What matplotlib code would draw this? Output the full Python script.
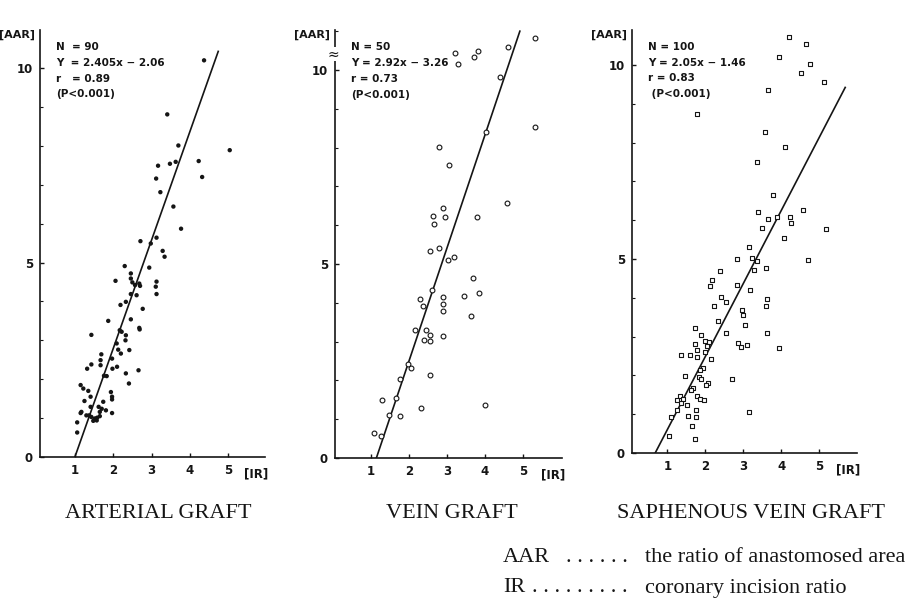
import matplotlib
matplotlib.use("Agg")
import matplotlib.pyplot as plt
from matplotlib import font_manager
from matplotlib.ticker import MultipleLocator

# values
art_x = [4.37, 3.41, 3.70, 5.04, 4.23, 3.17, 3.48, 3.63, 3.12, 4.32, 3.23, 3.57, 3.77,
         2.71, 2.98, 3.13, 3.29, 3.34, 2.94, 2.30, 2.06, 2.46, 2.46, 2.50, 2.57, 2.68,
         2.70, 3.13, 3.11, 3.13, 2.46, 2.61, 2.19, 2.33, 2.77, 2.46, 1.87, 2.17, 2.22,
         2.68, 2.69, 1.43, 2.33, 2.32, 2.09, 2.13, 2.20, 2.42, 1.69, 1.67, 1.67, 1.97,
         1.98, 2.10, 1.43, 1.32, 2.66, 2.33, 2.41, 1.76, 1.83, 1.15, 1.22, 1.35, 1.41,
         1.94, 1.97, 1.97, 1.25, 1.17, 1.15, 1.41, 1.74, 1.62, 1.70, 1.81, 1.65, 1.37,
         1.43, 1.52, 1.58, 1.65, 1.97, 1.06, 1.06, 1.30, 1.48, 1.57]
art_y = [10.2, 8.81, 8.01, 7.89, 7.61, 7.49, 7.54, 7.59, 7.16, 7.20, 6.81, 6.44, 5.87,
         5.55, 5.49, 5.64, 5.30, 5.15, 4.87, 4.91, 4.53, 4.72, 4.59, 4.49, 4.42, 4.46,
         4.40, 4.51, 4.38, 4.19, 4.19, 4.16, 3.91, 3.99, 3.81, 3.54, 3.50, 3.26, 3.22,
         3.32, 3.28, 3.14, 3.13, 3.00, 2.92, 2.76, 2.66, 2.75, 2.64, 2.49, 2.36, 2.53,
         2.27, 2.32, 2.38, 2.27, 2.23, 2.15, 1.89, 2.09, 2.08, 1.85, 1.76, 1.70, 1.55,
         1.67, 1.55, 1.48, 1.44, 1.16, 1.13, 1.29, 1.42, 1.29, 1.24, 1.20, 1.16, 1.07,
         1.03, 0.99, 1.01, 1.05, 1.13, 0.89, 0.63, 1.07, 0.93, 0.94]

vein_x = [5.32, 4.61, 3.21, 3.81, 3.71, 3.30, 4.39, 5.32, 4.04, 2.78, 3.06, 4.59, 2.89,
          2.64, 2.95, 2.65, 3.80, 2.55, 2.80, 3.18, 3.03, 3.68, 2.61, 3.45, 3.84, 2.28,
          2.89, 2.90, 2.37, 2.90, 3.62, 2.17, 2.46, 2.55, 2.55, 2.39, 2.89, 1.96, 2.05,
          1.75, 2.55, 1.65, 1.30, 2.32, 4.01, 1.47, 1.76, 1.09, 1.26]
vein_y = [10.82, 10.58, 10.44, 10.48, 10.33, 10.15, 9.81, 8.52, 8.39, 8.01, 7.56, 6.58,
          6.45, 6.24, 6.20, 6.03, 6.20, 5.33, 5.41, 5.18, 5.11, 4.64, 4.33, 4.18, 4.24,
          4.09, 4.15, 3.97, 3.92, 3.79, 3.67, 3.30, 3.30, 3.16, 3.01, 3.05, 3.15, 2.43,
          2.33, 2.04, 2.13, 1.55, 1.50, 1.30, 1.37, 1.10, 1.08, 0.64, 0.56]

saph_x = [4.21, 4.64, 3.94, 4.75, 4.51, 5.11, 3.64, 1.79, 3.57, 4.10, 3.37, 3.77, 3.39,
          3.66, 3.88, 4.23, 4.25, 4.58, 3.48, 5.18, 4.07, 3.14, 2.83, 3.24, 3.35, 3.28,
          3.59, 4.69, 2.39, 2.17, 2.12, 2.82, 3.18, 2.40, 2.54, 3.61, 3.59, 2.23, 2.96,
          3.00, 2.32, 3.04, 1.74, 2.54, 3.61, 1.89, 1.99, 2.10, 1.74, 2.05, 2.86, 3.09,
          2.93, 3.94, 1.79, 1.99, 1.60, 1.35, 1.77, 2.14, 1.93, 1.86, 1.46, 1.82, 1.89,
          2.69, 2.08, 2.02, 1.68, 1.62, 1.32, 1.42, 1.77, 1.86, 1.97, 1.35, 1.26, 3.14,
          1.75, 1.54, 1.75, 1.09, 1.64, 1.04, 1.74, 1.51, 1.26]
saph_y = [10.73, 10.54, 10.21, 10.03, 9.79, 9.55, 9.36, 8.74, 8.26, 7.88, 7.50, 6.65,
          6.22, 6.03, 6.07, 6.08, 5.92, 6.27, 5.79, 5.77, 5.54, 5.30, 5.00, 5.02, 4.94,
          4.72, 4.76, 4.98, 4.70, 4.45, 4.31, 4.33, 4.21, 4.02, 3.88, 3.98, 3.78, 3.78,
          3.69, 3.56, 3.39, 3.30, 3.22, 3.09, 3.09, 3.05, 2.88, 2.86, 2.82, 2.76, 2.83,
          2.78, 2.72, 2.70, 2.66, 2.61, 2.53, 2.52, 2.47, 2.43, 2.19, 2.15, 1.99, 1.97,
          1.91, 1.91, 1.80, 1.76, 1.67, 1.63, 1.48, 1.39, 1.46, 1.39, 1.37, 1.29, 1.12,
          1.06, 1.12, 0.96, 0.94, 0.94, 0.69, 0.45, 0.36, 1.24, 1.36]

# regression lines as drawn in the figure
art_fit_x = [1.0, 4.74]
art_fit_y = [0.0, 10.43]
vein_fit_x = [1.14, 4.92]
vein_fit_y = [0.0, 11.0]
saph_fit_x = [0.68, 5.68]
saph_fit_y = [0.0, 9.42]

titles = ["ARTERIAL GRAFT", "VEIN GRAFT", "SAPHENOUS VEIN GRAFT"]
stats = [["N  = 90", "Y  = 2.405x − 2.06", "r   = 0.89", "(P<0.001)"],
         ["N = 50", "Y = 2.92x − 3.26", "r = 0.73", "(P<0.001)"],
         ["N = 100", "Y = 2.05x − 1.46", "r = 0.83", " (P<0.001)"]]
x_ticks = [1, 2, 3, 4, 5]
y_ticks = [0, 5, 10]
key = [("AAR", ". . . . . .", "the ratio of anastomosed area"),
       ("IR", ". . . . . . . . .", "coronary incision ratio")]

names = {f.name for f in font_manager.fontManager.ttflist}
narrow = "Liberation Sans Narrow" if "Liberation Sans Narrow" in names else "DejaVu Sans"
ink = "#151515"

W, H = 919, 600
fig = plt.figure(figsize=(W / 100, H / 100), dpi=100)

# pixel boxes: left spine, width, xlim, y=0 px, ylim top
boxes = [(40, 225, 0.09, 5.96, 457, 10.98),
         (335, 227, 0.05, 6.03, 458, 11.03),
         (632, 225, 0.07, 5.99, 453, 10.90)]
series = [(art_x, art_y, art_fit_x, art_fit_y),
          (vein_x, vein_y, vein_fit_x, vein_fit_y),
          (saph_x, saph_y, saph_fit_x, saph_fit_y)]

for i, ((left, width, x0, x1, ybase, ytop), (xs, ys, fx, fy)) in enumerate(zip(boxes, series)):
    ax = fig.add_axes([left / W, (H - ybase) / H, width / W, (ybase - 30) / H])
    ax.set_xlim(x0, x1)
    ax.set_ylim(0, ytop)
    for s in ["top", "right"]:
        ax.spines[s].set_visible(False)
    for s in ["left", "bottom"]:
        ax.spines[s].set_linewidth(1.2)
        ax.spines[s].set_color(ink)

    if i == 0:
        ax.scatter(xs, ys, s=10, color=ink, edgecolors="none", zorder=3)
    elif i == 1:
        ax.scatter(xs, ys, s=12, facecolors="white", edgecolors=ink, linewidths=0.8, zorder=3)
    else:
        ax.scatter(xs, ys, s=9, marker="s", facecolors="white", edgecolors=ink,
                   linewidths=0.8, zorder=3)
    ax.plot(fx, fy, color=ink, lw=1.2, zorder=2)

    ax.set_xticks(x_ticks)
    ax.set_yticks(y_ticks)
    ax.yaxis.set_minor_locator(MultipleLocator(1))
    ax.tick_params(direction="in", length=3, width=1, colors=ink, labelsize=8.5, pad=5)
    ax.tick_params(which="minor", direction="in", length=2, width=0.8, colors=ink)
    for lab in ax.get_xticklabels() + ax.get_yticklabels():
        lab.set_family(narrow)
        lab.set_fontweight("bold")

    ax.text(-0.02, 1.0, "[AAR]", transform=ax.transAxes, ha="right", va="top",
            fontsize=8, fontweight="bold", family=narrow, color=ink)
    ax.text(0.96, -0.025, "[IR]", transform=ax.transAxes, ha="center", va="top",
            fontsize=8.5, fontweight="bold", family=narrow, color=ink)
    if i == 1:
        ax.text(0, 10.4, "≈", ha="center", va="center", fontsize=10, color=ink,
                bbox=dict(facecolor="white", edgecolor="none", pad=0), clip_on=False)

    for k, line in enumerate(stats[i]):
        ax.text(0.07, 0.96 - k * 0.037, line, transform=ax.transAxes, ha="left", va="center",
                fontsize=7.5, fontweight="bold", family=narrow, color=ink)

# panel captions
for cx, t in zip([158, 452, 751], titles):
    fig.text(cx / W, 1 - 514 / H, t, ha="center", va="center", fontsize=16,
             family="Liberation Serif", color=ink)

# abbreviations key
for k, (abbr, dots, desc) in enumerate(key):
    yy = 1 - (558 + 30 * k) / H
    fig.text(503 / W, yy, abbr, ha="left", va="center", fontsize=16,
             family="Liberation Serif", color=ink)
    fig.text(628 / W, yy, dots, ha="right", va="center", fontsize=16,
             family="Liberation Serif", color=ink)
    fig.text(645 / W, yy, desc, ha="left", va="center", fontsize=16,
             family="Liberation Serif", color=ink)

fig.savefig("out.png", dpi=100)
